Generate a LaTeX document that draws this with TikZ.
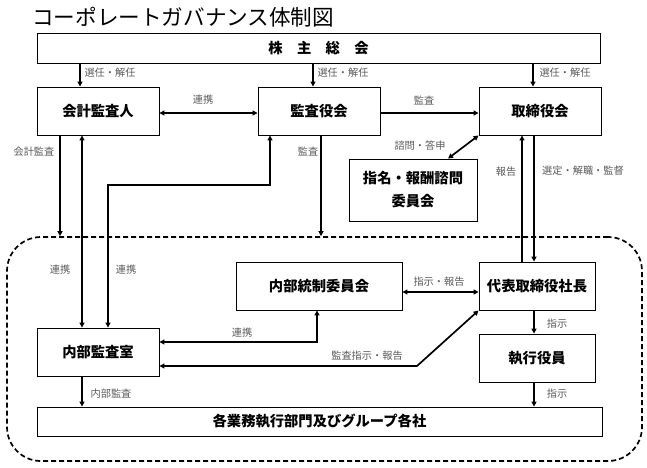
\documentclass[tikz,border=0pt]{standalone}
\usepackage{fontspec}
\setmainfont{Noto Sans CJK JP}
\usetikzlibrary{arrows.meta}
\definecolor{lblgray}{RGB}{90,90,90}
\tikzset{
  box/.style={draw=black, line width=0.9pt, font=\fontsize{14.3}{23}\selectfont\bfseries, inner sep=0pt, align=center},
  conn/.style={line width=1.7pt, -{Triangle[length=5pt,width=5pt]}},
  connb/.style={line width=1.7pt, {Triangle[length=5pt,width=5pt]}-{Triangle[length=5pt,width=5pt]}},
  lbl/.style={font=\fontsize{10.2}{12}\selectfont, text=lblgray, inner sep=0pt},
  grpbox/.style={draw=black, line width=1.7pt, dash pattern=on 5pt off 3pt, rounded corners=34pt, inner sep=0pt},
}
\begin{document}
\begin{tikzpicture}[x=1pt, y=-1pt]
\useasboundingbox (0,0) rectangle (647,467);
% title
\node[font=\fontsize{21.6}{24}\selectfont, anchor=west, inner sep=0pt] (title) at (32,17) {コーポレートガバナンス体制図};
% group region
\node[grpbox, minimum width=635pt, minimum height=224pt] (grp) at (324.5,349) {};
% boxes
\node[box, minimum width=563pt, minimum height=30pt] (agm) at (318.5,48) {株　主　総　会};
\node[box, minimum width=122pt, minimum height=48pt] (auditor) at (98,111) {会計監査人};
\node[box, minimum width=122pt, minimum height=48pt] (kansa) at (319,111) {監査役会};
\node[box, minimum width=122pt, minimum height=48pt] (board) at (540,111) {取締役会};
\node[box, minimum width=128pt, minimum height=62pt] (nom) at (413,190) {指名・報酬諮問\\委員会};
\node[box, minimum width=166pt, minimum height=48pt] (ic) at (319,286) {内部統制委員会};
\node[box, minimum width=116pt, minimum height=48pt] (ceo) at (537,286) {代表取締役社長};
\node[box, minimum width=122pt, minimum height=48pt] (ia) at (98,352) {内部監査室};
\node[box, minimum width=116pt, minimum height=48pt] (exec) at (537,358) {執行役員};
\node[box, minimum width=565pt, minimum height=29pt] (ops) at (319.5,421.5) {各業務執行部門及びグループ各社};
% helper coordinates
\coordinate (x60) at (60,0);
\coordinate (x80) at (80,0);
\coordinate (x82) at (82,0);
\coordinate (x108) at (108,0);
\coordinate (x313) at (313,0);
\coordinate (x321) at (321,0);
\coordinate (x448) at (448,0);
\coordinate (x522) at (522,0);
\coordinate (x533) at (533,0);
\coordinate (x534) at (534,0);
\coordinate (y113) at (0,113);
\coordinate (y292) at (0,292);
\coordinate (y366) at (0,366);
\coordinate (bendA) at (270,185);
\coordinate (bendB) at (317,342);
\coordinate (bendC) at (417,366);
% connectors
\draw[conn] (agm.south -| x80) -- (auditor.north -| x80);
\draw[conn] (agm.south -| x313) -- (kansa.north -| x313);
\draw[conn] (agm.south -| x533) -- (board.north -| x533);
\draw[connb] (auditor.east |- y113) -- (kansa.west |- y113);
\draw[conn] (kansa.east |- y113) -- (board.west |- y113);
\draw[conn] (auditor.south -| x60) -- (grp.north -| x60);
\draw[connb] (auditor.south -| x82) -- (ia.north -| x82);
\draw[connb] (ia.north -| x108) |- (bendA) -- (kansa.south -| bendA);
\draw[conn] (kansa.south -| x321) -- (grp.north -| x321);
\draw[connb] (board.south west) -- (nom.north -| x448);
\draw[conn] (ceo.north -| x522) -- (board.south -| x522);
\draw[conn] (board.south -| x534) -- (ceo.north -| x534);
\draw[connb] (ic.east |- y292) -- (ceo.west |- y292);
\draw[connb] (ia.east |- bendB) -| (ic.south -| bendB);
\draw[connb] (ia.east |- y366) -- (bendC) -- (ceo.south west);
\draw[conn] (ceo.south -| x534) -- (exec.north -| x534);
\draw[conn] (exec.south -| x534) -- (ops.north -| x534);
\draw[conn] (ia.south -| x82) -- (ops.north -| x82);
% labels
\node[lbl] (l1) at (110,73) {選任・解任};
\node[lbl] (l2) at (343,73) {選任・解任};
\node[lbl] (l3) at (565,73) {選任・解任};
\node[lbl] (l4) at (203,100) {連携};
\node[lbl] (l5) at (424,101) {監査};
\node[lbl] (l6) at (34,152) {会計監査};
\node[lbl] (l7) at (308,152) {監査};
\node[lbl] (l8) at (420,146) {諮問・答申};
\node[lbl] (l9) at (506,172) {報告};
\node[lbl] (l10) at (583,171) {選定・解職・監督};
\node[lbl] (l11) at (60,270) {連携};
\node[lbl] (l12) at (126,270) {連携};
\node[lbl] (l13) at (242,333) {連携};
\node[lbl] (l14) at (367,356) {監査指示・報告};
\node[lbl] (l15) at (439,282) {指示・報告};
\node[lbl] (l16) at (557,324) {指示};
\node[lbl] (l17) at (557,394) {指示};
\node[lbl] (l18) at (111,394) {内部監査};
\end{tikzpicture}
\end{document}
